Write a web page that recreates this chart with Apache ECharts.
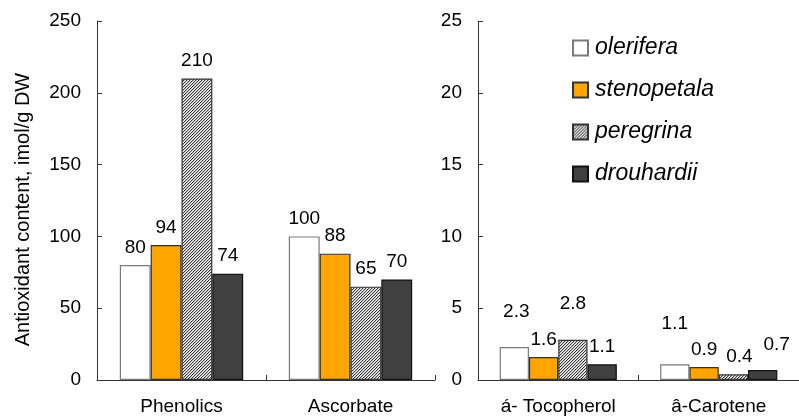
<!DOCTYPE html>
<html>
<head>
<meta charset="utf-8">
<script src="https://cdn.jsdelivr.net/npm/echarts@6/dist/echarts.min.js"></script>
<style>
html,body{margin:0;padding:0;background:#fff;}
#chart{width:799px;height:420px;}
</style>
</head>
<body>
<div id="chart"></div>
<script>
// ---- data ----
const categoriesLeft = ['Phenolics', 'Ascorbate'];
const categoriesRight = ['á- Tocopherol', 'â-Carotene'];
const seriesNames = ['olerifera', 'stenopetala', 'peregrina', 'drouhardii'];
const oleriferaLeft = [80, 100];
const stenopetalaLeft = [94, 88];
const peregrinaLeft = [210, 65];
const drouhardiiLeft = [74, 70];
const oleriferaRight = [2.3, 1.1];
const stenopetalaRight = [1.6, 0.9];
const peregrinaRight = [2.8, 0.4];
const drouhardiiRight = [1.1, 0.7];
const leftTicks = [0, 50, 100, 150, 200, 250];
const rightTicks = [0, 5, 10, 15, 20, 25];
const yAxisTitle = 'Antioxidant content, imol/g DW';

// ---- styles ----
const FONT = 'Liberation Sans, Arial, sans-serif';
const FS = 19;

function hatchCanvas() {
  const c = document.createElement('canvas');
  c.width = 3; c.height = 3;
  const g = c.getContext('2d');
  g.fillStyle = '#f2f2f2';
  g.fillRect(0, 0, 3, 3);
  for (let i = 0; i < 3; i++) {
    g.fillStyle = '#3a3a3a';
    g.fillRect(i, 2 - i, 1, 1);
    g.fillStyle = '#c4c4c4';
    g.fillRect((i + 1) % 3, 2 - i, 1, 1);
  }
  return c;
}
const hatch = hatchCanvas();

const itemStyles = [
  { color: '#ffffff', borderColor: '#7a7a7a', borderWidth: 1.2 },
  { color: '#ffa500', borderColor: '#333333', borderWidth: 1.2 },
  { color: { image: hatch, repeat: 'repeat' }, borderColor: '#333333', borderWidth: 1.2 },
  { color: '#404040', borderColor: '#111111', borderWidth: 1.2 }
];

// per-point label offsets [dx, dy] (style only)
const labelOffsetsRight = [
  [[2, -18], [0, -23]],
  [[0, 0], [0, 0]],
  [[0, -19], [6, 0]],
  [[0, 0], [14, -8]]
];

const leftData = [oleriferaLeft, stenopetalaLeft, peregrinaLeft, drouhardiiLeft];
const rightData = [oleriferaRight, stenopetalaRight, peregrinaRight, drouhardiiRight];

const labelBase = {
  show: true, position: 'top', distance: 8,
  fontFamily: FONT, fontSize: FS, color: '#000'
};

const series = [];
seriesNames.forEach((name, i) => {
  series.push({
    name, type: 'bar', xAxisIndex: 0, yAxisIndex: 0,
    barGap: '0%', barCategoryGap: '27%',
    itemStyle: itemStyles[i],
    label: labelBase,
    data: leftData[i]
  });
});
seriesNames.forEach((name, i) => {
  series.push({
    name, type: 'bar', xAxisIndex: 1, yAxisIndex: 1,
    barGap: '0%', barCategoryGap: '27%',
    itemStyle: itemStyles[i],
    label: labelBase,
    data: rightData[i].map((v, j) => ({
      value: v,
      label: { offset: labelOffsetsRight[i][j] }
    }))
  });
});

function xAxisCfg(cats, idx) {
  return {
    type: 'category', gridIndex: idx, data: cats,
    axisLine: { lineStyle: { color: '#333', width: 1 } },
    axisTick: { show: true, inside: true, length: 5, alignWithLabel: false, lineStyle: { color: '#333' } },
    axisLabel: { fontFamily: FONT, fontSize: FS, color: '#000', margin: 17 }
  };
}
function yAxisCfg(ticks, idx, withName) {
  const cfg = {
    type: 'value', gridIndex: idx,
    min: ticks[0], max: ticks[ticks.length - 1], interval: ticks[1] - ticks[0],
    splitLine: { show: false },
    axisLine: { show: true, lineStyle: { color: '#333', width: 1 } },
    axisTick: { show: true, inside: true, length: 5, lineStyle: { color: '#333' } },
    axisLabel: { fontFamily: FONT, fontSize: FS, color: '#000', margin: 16 }
  };
  if (withName) {
    cfg.name = yAxisTitle;
    cfg.nameLocation = 'middle';
    cfg.nameRotate = 90;
    cfg.nameGap = 64;
    cfg.nameTextStyle = { fontFamily: FONT, fontSize: 20, color: '#000', padding: [0, 0, 0, -18] };
  }
  return cfg;
}

const chart = echarts.init(document.getElementById('chart'), null, { renderer: 'canvas' });
chart.setOption({
  backgroundColor: '#fff',
  animation: false,
  grid: [
    { left: 97, top: 21, width: 338, height: 359 },
    { left: 478, top: 21, width: 326, height: 359 }
  ],
  xAxis: [xAxisCfg(categoriesLeft, 0), xAxisCfg(categoriesRight, 1)],
  yAxis: [yAxisCfg(leftTicks, 0, true), yAxisCfg(rightTicks, 1, false)],
  legend: {
    data: seriesNames,
    orient: 'vertical',
    left: 567, top: 31,
    itemWidth: 15, itemHeight: 15,
    itemGap: 18,
    icon: 'rect',
    textStyle: { fontFamily: FONT, fontSize: 23, fontStyle: 'italic', color: '#000', lineHeight: 24, padding: [0, 0, 0, 2] }
  },
  series
});
</script>
</body>
</html>
